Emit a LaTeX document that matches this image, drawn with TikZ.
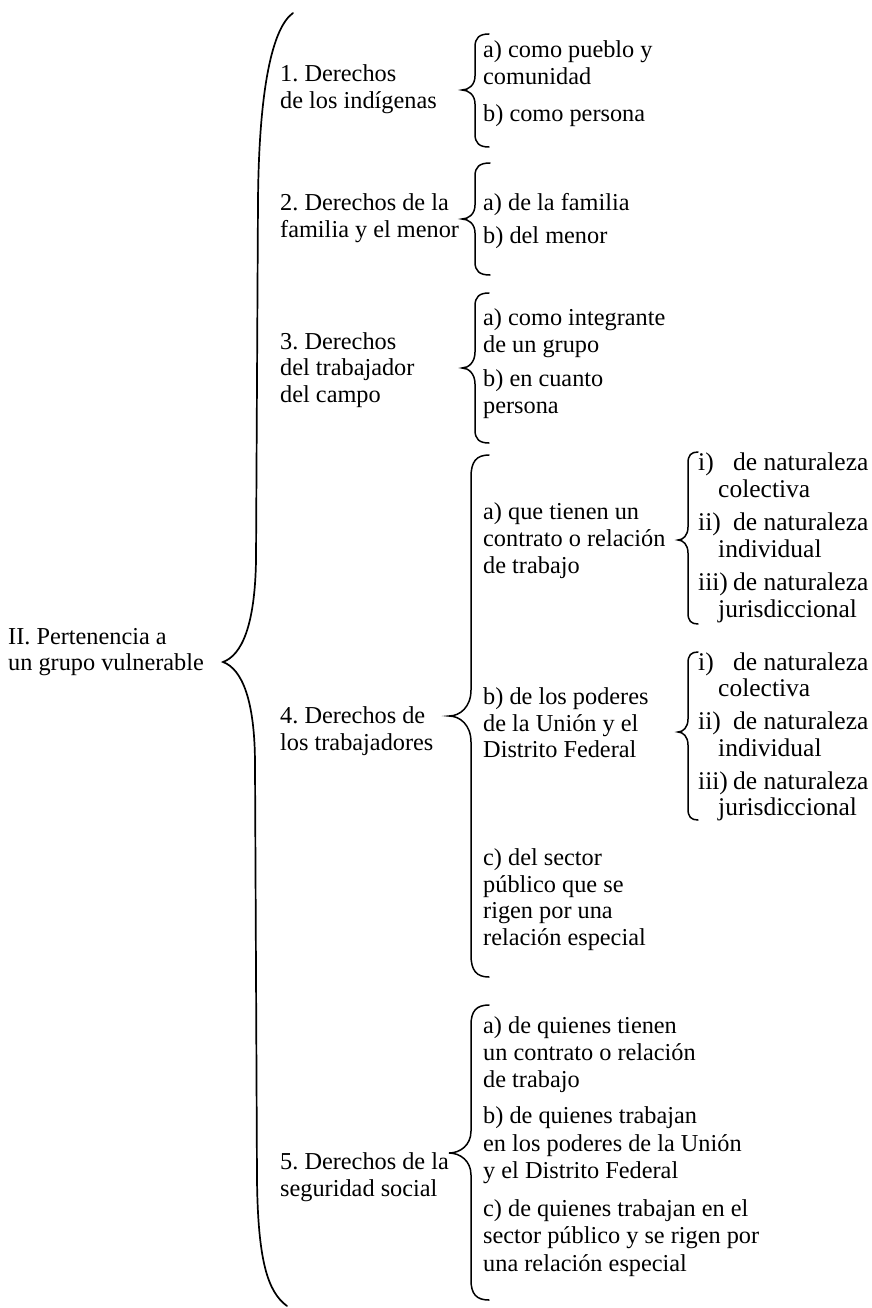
\documentclass[tikz,border=0pt]{standalone}
\usepackage{fontspec}
\setmainfont{Liberation Serif}
\frenchspacing
\newcommand\txtline[4]{\node[txt] (#1) at (#2,#3) {#4};}
\newcommand\subline[4]{\node[txt, font=\fontsize{25.5}{27}\selectfont] (#1) at (#2,#3) {#4};}
% #1 xend, #2 xv, #3 xtip, #4 ytop, #5 ytip, #6 ybot, #7 hook, #8 bend
\newcommand\mybrace[8]{%
  \draw[brc] (#1,#4) .. controls ({#2+0.3*(#1-#2)},#4) and (#2,{#4+0.3*#7}) .. (#2,{#4+#7})
    -- (#2,{#5-#8}) .. controls (#2,{#5-0.35*#8}) and ({#3+0.5*(#2-#3)},#5) .. (#3,#5)
    .. controls ({#3+0.5*(#2-#3)},#5) and (#2,{#5+0.35*#8}) .. (#2,{#5+#8})
    -- (#2,{#6-#7}) .. controls (#2,{#6-0.3*#7}) and ({#2+0.3*(#1-#2)},#6) .. (#1,#6);}
\begin{document}
\begin{tikzpicture}[x=1pt,y=-1pt,
  txt/.style={anchor=base west, inner sep=0pt, font=\fontsize{24.3}{27}\selectfont},
  brc/.style={draw=black, line width=1.5pt, line cap=round}]
\fill[white] (0,0) rectangle (871,1308);
\useasboundingbox (0,0) rectangle (871,1308);

% level 0
\txtline{t0a}{8}{644}{II. Pertenencia a}
\txtline{t0b}{8}{670}{un grupo vulnerable}

% big brace
\draw[brc, line width=1.7pt] (293,13) .. controls (272,28) and (259,90) .. (258,200)
  -- (256,560) .. controls (255,625) and (242,655) .. (223,662)
  .. controls (242,669) and (255,700) .. (255,765)
  -- (257,1180) .. controls (258,1262) and (268,1292) .. (287,1306);

% level 1
\txtline{t1a}{280}{82}{1. Derechos}
\txtline{t1b}{280}{109}{de los indígenas}
\txtline{t2a}{280}{210}{2. Derechos de la}
\txtline{t2b}{280}{237}{familia y el menor}
\txtline{t3a}{280}{349}{3. Derechos}
\txtline{t3b}{280}{375}{del trabajador}
\txtline{t3c}{280}{402}{del campo}
\txtline{t4a}{280}{723}{4. Derechos de}
\txtline{t4b}{280}{750}{los trabajadores}
\txtline{t5a}{280}{1169}{5. Derechos de la}
\txtline{t5b}{280}{1196}{seguridad social}

% level 1 braces
\mybrace{489}{475}{462}{34}{90}{147}{13}{14}
\mybrace{490}{475}{462}{163}{219}{275}{13}{14}
\mybrace{489}{475}{462}{293}{368}{443}{13}{16}
\mybrace{489}{471}{449}{455}{716}{977}{22}{26}
\mybrace{489}{471}{449}{1005}{1153}{1300}{20}{22}

% level 2
\txtline{u1a}{483}{58}{a) como pueblo y}
\txtline{u1b}{483}{85}{comunidad}
\txtline{u1c}{483}{122}{b) como persona}
\txtline{u2a}{483}{210}{a) de la familia}
\txtline{u2b}{483}{243}{b) del menor}
\txtline{u3a}{483}{325}{a) como integrante}
\txtline{u3b}{483}{352}{de un grupo}
\txtline{u3c}{483}{386}{b) en cuanto}
\txtline{u3d}{483}{413}{persona}
\txtline{u4a}{483}{519}{a) que tienen un}
\txtline{u4b}{483}{546}{contrato o relación}
\txtline{u4c}{483}{573}{de trabajo}
\txtline{u4d}{483}{704}{b) de los poderes}
\txtline{u4e}{483}{731}{de la Unión y el}
\txtline{u4f}{483}{757}{Distrito Federal}
\txtline{u4g}{483}{865}{c) del sector}
\txtline{u4h}{483}{892}{público que se}
\txtline{u4i}{483}{918}{rigen por una}
\txtline{u4j}{483}{945}{relación especial}
\txtline{u5a}{483}{1033}{a) de quienes tienen}
\txtline{u5b}{483}{1060}{un contrato o relación}
\txtline{u5c}{483}{1087}{de trabajo}
\txtline{u5d}{483}{1123}{b) de quienes trabajan}
\txtline{u5e}{483}{1151}{en los poderes de la Unión}
\txtline{u5f}{483}{1178}{y el Distrito Federal}
\txtline{u5g}{483}{1216}{c) de quienes trabajan en el}
\txtline{u5h}{483}{1243}{sector público y se rigen por}
\txtline{u5i}{483}{1271}{una relación especial}

% level 2 braces
\mybrace{698}{688}{678}{452}{540}{624}{11}{13}
\mybrace{698}{688}{678}{652}{732}{820}{11}{13}

% level 3
\subline{v1a}{698}{470}{i)}
\subline{v1b}{733}{470}{de naturaleza}
\subline{v1c}{718}{497}{colectiva}
\subline{v2a}{698}{530}{ii)}
\subline{v2b}{733}{530}{de naturaleza}
\subline{v2c}{718}{557}{individual}
\subline{v3a}{698}{590}{iii)}
\subline{v3b}{733}{590}{de naturaleza}
\subline{v3c}{718}{617}{jurisdiccional}
\subline{w1a}{698}{670}{i)}
\subline{w1b}{733}{670}{de naturaleza}
\subline{w1c}{718}{696}{colectiva}
\subline{w2a}{698}{729}{ii)}
\subline{w2b}{733}{729}{de naturaleza}
\subline{w2c}{718}{756}{individual}
\subline{w3a}{698}{789}{iii)}
\subline{w3b}{733}{789}{de naturaleza}
\subline{w3c}{718}{815}{jurisdiccional}
\end{tikzpicture}
\end{document}
